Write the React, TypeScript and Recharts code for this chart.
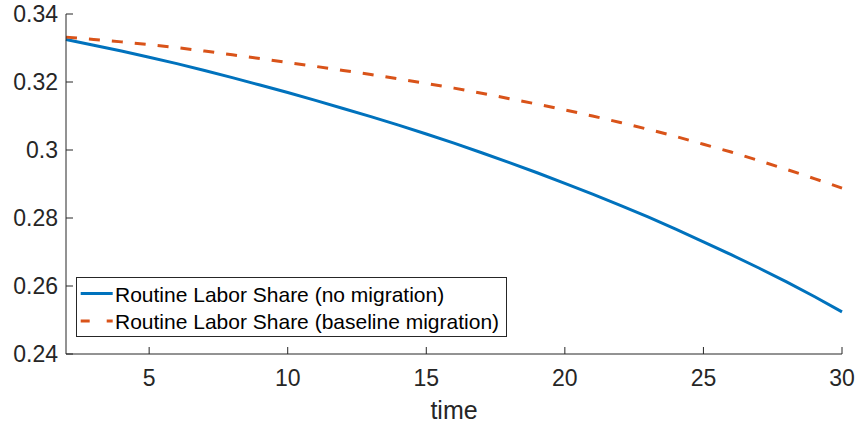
import React from 'react';
import { LineChart, Line, XAxis, YAxis, Legend } from 'recharts';

const timeValues = [2, 3, 4, 5, 6, 7, 8, 9, 10, 11, 12, 13, 14, 15, 16, 17, 18, 19, 20, 21, 22, 23, 24, 25, 26, 27, 28, 29, 30];
const noMigration = [
  0.3325, 0.3308, 0.3291, 0.3273, 0.3254, 0.3234, 0.3213, 0.3191, 0.3169, 0.3146,
  0.3122, 0.3098, 0.3073, 0.3047, 0.302, 0.2992, 0.2963, 0.2933, 0.2902, 0.287,
  0.2837, 0.2803, 0.2767, 0.273, 0.2692, 0.2653, 0.2612, 0.2569, 0.2524,
];
const baselineMigration = [
  0.3332, 0.3325, 0.3318, 0.331, 0.3301, 0.3291, 0.328, 0.3269, 0.3257, 0.3246,
  0.3234, 0.3222, 0.3209, 0.3196, 0.3182, 0.3167, 0.3151, 0.3135, 0.3118, 0.31,
  0.3081, 0.3061, 0.304, 0.3017, 0.2994, 0.2969, 0.2943, 0.2916, 0.2888,
];
const xTicks = [5, 10, 15, 20, 25, 30];
const yTicks = [0.24, 0.26, 0.28, 0.3, 0.32, 0.34];
const xDomain = [2, 30];
const yDomain = [0.24, 0.34];
const seriesNames = ['Routine Labor Share (no migration)', 'Routine Labor Share (baseline migration)'];
const xLabel = 'time';

const data = timeValues.map((t, i) => ({ time: t, noMig: noMigration[i], baseMig: baselineMigration[i] }));

const FONT = '"Liberation Sans", Arial, Helvetica, sans-serif';
const AX = '#262626';
const TL = 7;
const BLUE = '#0072BD';
const ORANGE = '#D95319';

const fmtY = (v: number) => String(Number(v.toFixed(2)));

const BottomTick = (props: any) => {
  const { x, y, payload } = props;
  return (
    <g>
      <line x1={x} y1={y} x2={x} y2={y - TL} stroke={AX} strokeWidth={1} />
      <text x={x} y={y + 32} textAnchor="middle" fontSize={23} fontFamily={FONT} fill={AX}>
        {payload.value}
      </text>
    </g>
  );
};

const TopTick = (props: any) => {
  const { x, y } = props;
  return <line x1={x} y1={y} x2={x} y2={y + TL} stroke={AX} strokeWidth={1} />;
};

const LeftTick = (props: any) => {
  const { x, y, payload } = props;
  return (
    <g>
      <line x1={x} y1={y} x2={x + TL} y2={y} stroke={AX} strokeWidth={1} />
      <text x={x - 8} y={y + 8} textAnchor="end" fontSize={23} fontFamily={FONT} fill={AX}>
        {fmtY(payload.value)}
      </text>
    </g>
  );
};

const RightTick = (props: any) => {
  const { x, y } = props;
  return <line x1={x} y1={y} x2={x - TL} y2={y} stroke={AX} strokeWidth={1} />;
};

const TimeLabel = (props: any) => {
  const vb = props.viewBox || { x: 66, y: 354, width: 776, height: 72 };
  return (
    <text x={vb.x + vb.width / 2} y={vb.y + 65} textAnchor="middle" fontSize={25} fontFamily={FONT} fill={AX}>
      {xLabel}
    </text>
  );
};

const LegendContent = (props: any) => {
  const raw = props.payload || [];
  const items = seriesNames
    .map((n) => raw.find((it: any) => it.value === n))
    .filter(Boolean);
  return (
    <svg width={431} height={60} style={{ display: 'block' }}>
      <rect x={0.5} y={0.5} width={430} height={59} fill="#fff" stroke={AX} strokeWidth={1} />
      {items.map((it: any, i: number) => {
        const cy = i === 0 ? 16.5 : 44;
        const dashed = it.value === seriesNames[1];
        return (
          <g key={i}>
            <line
              x1={4.7}
              y1={cy}
              x2={36.7}
              y2={cy}
              stroke={it.color}
              strokeWidth={3}
              strokeDasharray={dashed ? '9 17' : undefined}
            />
            <text x={39} y={cy + 8.3} fontSize={21} fontFamily={FONT} fill="#000">
              {it.value}
            </text>
          </g>
        );
      })}
    </svg>
  );
};

export default function App() {
  return (
    <div style={{ position: 'absolute', left: 0, top: 0, width: 858, height: 426, background: '#fff' }}>
      <LineChart width={858} height={426} data={data} margin={{ top: 14, right: 16, bottom: 0, left: 0 }}>
        <XAxis
          dataKey="time"
          type="number"
          domain={xDomain}
          ticks={xTicks}
          interval={0}
          height={72}
          tickSize={0}
          tickMargin={0}
          tickLine={false}
          tick={<BottomTick />}
          axisLine={{ stroke: AX, strokeWidth: 1 }}
          label={<TimeLabel />}
        />
        <XAxis
          xAxisId="top"
          orientation="top"
          type="number"
          domain={xDomain}
          ticks={xTicks}
          interval={0}
          height={0}
          tickSize={0}
          tickMargin={0}
          tickLine={false}
          tick={<TopTick />}
          axisLine={{ stroke: AX, strokeWidth: 1 }}
        />
        <YAxis
          type="number"
          domain={yDomain}
          ticks={yTicks}
          interval={0}
          width={66}
          tickSize={0}
          tickMargin={0}
          tickLine={false}
          tick={<LeftTick />}
          axisLine={{ stroke: AX, strokeWidth: 1 }}
        />
        <YAxis
          yAxisId="right"
          orientation="right"
          type="number"
          domain={yDomain}
          ticks={yTicks}
          interval={0}
          width={0}
          tickSize={0}
          tickMargin={0}
          tickLine={false}
          tick={<RightTick />}
          axisLine={{ stroke: AX, strokeWidth: 1 }}
        />
        <Line
          type="linear"
          dataKey="noMig"
          name={seriesNames[0]}
          stroke={BLUE}
          strokeWidth={3}
          dot={false}
          activeDot={false}
          isAnimationActive={false}
        />
        <Line
          type="linear"
          dataKey="baseMig"
          name={seriesNames[1]}
          stroke={ORANGE}
          strokeWidth={3}
          strokeDasharray="11 12"
          dot={false}
          activeDot={false}
          isAnimationActive={false}
        />
        <Legend
          layout="vertical"
          align="center"
          verticalAlign="middle"
          itemSorter={null as any}
          wrapperStyle={{ left: 76, top: 277, width: 431, height: 60 }}
          content={<LegendContent />}
        />
      </LineChart>
    </div>
  );
}
